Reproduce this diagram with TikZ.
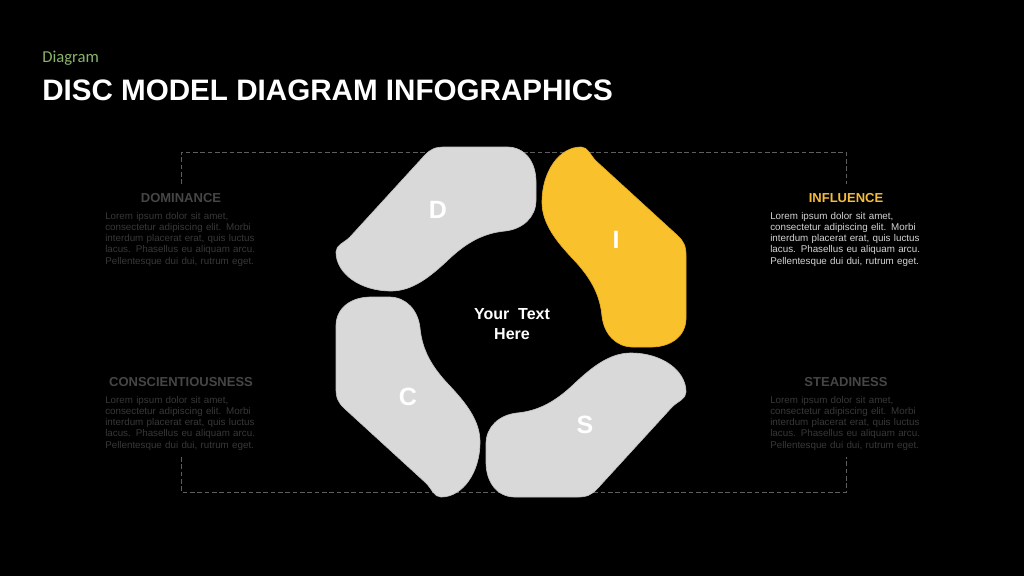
\documentclass[tikz,border=0pt]{standalone}
\usepackage{fontspec}
\setmainfont{Liberation Sans}
\newfontfamily\carlito{Carlito}
\definecolor{petalgray}{HTML}{D9D9D9}
\definecolor{petalrim}{HTML}{C4C4C4}
\definecolor{petalyellow}{HTML}{F9C12C}
\definecolor{yellowrim}{HTML}{E8AE22}
\definecolor{framegray}{HTML}{5E5E5E}
\definecolor{dimhead}{HTML}{464646}
\definecolor{dimbody}{HTML}{383838}
\definecolor{infhead}{HTML}{F5BC3E}
\definecolor{infbody}{HTML}{D4D4D4}
\definecolor{subgreen}{HTML}{8AB46A}
\newcommand{\jline}[1]{\makebox[113.25pt][s]{#1}}
\newcommand{\loremtext}{\jline{Lorem ipsum dolor sit amet,}\\\jline{consectetur adipiscing elit. Morbi}\\\jline{interdum placerat erat, quis luctus}\\\jline{lacus. Phasellus eu aliquam arcu.}\\Pellentesque dui dui, rutrum eget.}
\newcommand{\petalpath}[1]{\path[#1] (-161,-85) -- (-86,-167) .. controls (-80,-173) and (-76,-175) .. (-66,-175) -- (-4,-175) .. controls (14,-175) and (25,-160) .. (25,-140) -- (25,-122) .. controls (25,-105) and (12,-93) .. (-6,-91) .. controls (-28,-89) and (-45,-79) .. (-62,-63) .. controls (-80,-46) and (-98,-31) .. (-120,-31) .. controls (-150,-31) and (-175,-48) .. (-175,-70) .. controls (-175,-77) and (-167,-79) .. (-161,-85) -- cycle;}
\begin{document}
\begin{tikzpicture}[x=0.75pt,y=-0.75pt,
  petal/.style={fill=petalgray, draw=petalrim, line width=0.5pt},
  petalhi/.style={fill=petalyellow, draw=yellowrim, line width=0.5pt},
  letter/.style={text=white, font=\bfseries\fontsize{18.75}{20}\selectfont, inner sep=0pt},
  frame/.style={draw=framegray, line width=0.6pt, dash pattern=on 3.5pt off 2pt},
  heading/.style={font=\bfseries\fontsize{9.75}{11}\selectfont, inner sep=0pt},
  body/.style={anchor=north west, inner sep=0pt, text width=113.25pt, align=left, font=\fontsize{7.35}{8.4}\selectfont}]
\useasboundingbox (0,0) rectangle (1024,576);
\fill[black] (0,0) rectangle (1024,576);
% header
\node[anchor=base west, inner sep=0pt, text=subgreen, font=\carlito\fontsize{12.5}{14}\selectfont] (sub) at (42,62) {Diagram};
\node[anchor=base west, inner sep=0pt, text=white, font=\bfseries\fontsize{22.2}{26}\selectfont] (title) at (42,100) {DISC MODEL DIAGRAM INFOGRAPHICS};
% dashed frame
\coordinate (ftl) at (181,152);
\coordinate (ftr) at (846,152);
\coordinate (fbl) at (181,492);
\coordinate (fbr) at (846,492);
\coordinate (ftlv) at (181,184);
\coordinate (ftrv) at (846,184);
\coordinate (fblv) at (181,457);
\coordinate (fbrv) at (846,457);
\draw[frame] (ftlv) -- (ftl) -- (ftr) -- (ftrv);
\draw[frame] (fblv) -- (fbl) -- (fbr) -- (fbrv);
% petals
\begin{scope}[shift={(511,322)}]\petalpath{petal}\end{scope}
\begin{scope}[shift={(511,322)}, rotate=-90]\petalpath{petalhi}\end{scope}
\begin{scope}[shift={(511,322)}, rotate=-180]\petalpath{petal}\end{scope}
\begin{scope}[shift={(511,322)}, rotate=90]\petalpath{petal}\end{scope}
\node[letter] (lD) at (438,210) {D};
\node[letter] (lI) at (616,240) {I};
\node[letter] (lS) at (585,425) {S};
\node[letter] (lC) at (408,397) {C};
\node[text=white, font=\bfseries\fontsize{12}{15}\selectfont, align=center, inner sep=0pt] (center) at (512,324) {Your\ \ Text\\Here};
% text blocks
\node[heading, text=dimhead] (hD) at (181,198) {DOMINANCE};
\node[body, text=dimbody] (bD) at (105,212) {\loremtext};
\node[heading, text=infhead] (hI) at (846,198) {INFLUENCE};
\node[body, text=infbody] (bI) at (770,212) {\loremtext};
\node[heading, text=dimhead] (hC) at (181,382) {CONSCIENTIOUSNESS};
\node[body, text=dimbody] (bC) at (105,396) {\loremtext};
\node[heading, text=dimhead] (hS) at (846,382) {STEADINESS};
\node[body, text=dimbody] (bS) at (770,396) {\loremtext};
\end{tikzpicture}
\end{document}
